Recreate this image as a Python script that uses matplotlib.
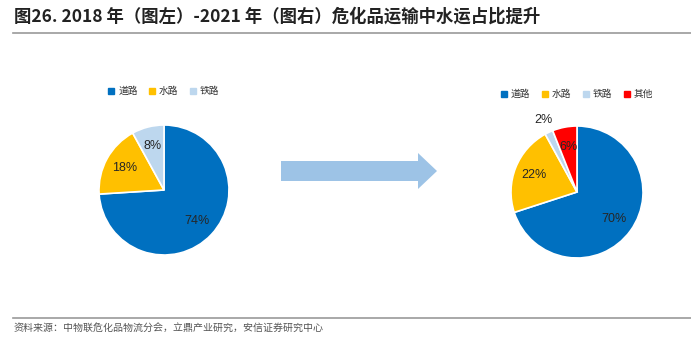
import matplotlib.pyplot as plt
import matplotlib.patches as mpatches
from matplotlib.lines import Line2D
import numpy as np

plt.rcParams['font.family'] = ['Noto Sans CJK SC', 'DejaVu Sans']

labels_2018 = ['道路', '水路', '铁路']
share_2018 = [74, 18, 8]
colors_2018 = ['#0070C0', '#FFC000', '#BDD7EE']

labels_2021 = ['道路', '水路', '铁路', '其他']
share_2021 = [70, 22, 2, 6]
colors_2021 = ['#0070C0', '#FFC000', '#BDD7EE', '#FF0000']

title = '图26. 2018 年（图左）-2021 年（图右）危化品运输中水运占比提升'
source = '资料来源：中物联危化品物流分会，立鼎产业研究，安信证券研究中心'

W, H = 691, 352
fig = plt.figure(figsize=(W / 100, H / 100), dpi=100)


def px_axes(cx, cy, r):
    # axes box in pixel coords (top-left origin), square around pie centre
    return fig.add_axes([(cx - r) / W, (H - cy - r) / H, 2 * r / W, 2 * r / H])


def draw_pie(ax, vals, cols, outside=None):
    wedges, texts, autotexts = ax.pie(
        vals, colors=cols, startangle=90, counterclock=False,
        autopct='%d%%', pctdistance=0.7, radius=1,
        wedgeprops=dict(edgecolor='white', linewidth=1.2),
        textprops=dict(fontsize=9, color='#262626',
                       family=['Liberation Sans', 'DejaVu Sans']))
    if outside is not None:
        w = wedges[outside]
        ang = np.deg2rad((w.theta1 + w.theta2) / 2)
        autotexts[outside].set_position((1.2 * np.cos(ang), 1.2 * np.sin(ang)))
    ax.set_xlim(-1, 1)
    ax.set_ylim(-1, 1)
    ax.set_aspect('equal')
    ax.axis('off')
    return wedges


ax1 = px_axes(164, 190, 65)
draw_pie(ax1, share_2018, colors_2018)
ax2 = px_axes(577, 192, 66)
draw_pie(ax2, share_2021, colors_2021, outside=2)


def legend(labels, cols, x, y):
    handles = [Line2D([], [], marker='s', linestyle='', markersize=4,
                      markerfacecolor=c, markeredgecolor=c) for c in cols]
    fig.legend(handles, labels, loc='center', bbox_to_anchor=(x / W, 1 - y / H),
               ncol=len(labels), frameon=False, fontsize=7,
               handlelength=0.6, handletextpad=0.4, columnspacing=1.2,
               labelcolor='#333333')


legend(labels_2018, colors_2018, 164, 91)
legend(labels_2021, colors_2021, 577, 94)

# arrow between the pies
arrow_pts = np.array([[281, 161], [418, 161], [418, 153], [437, 171],
                      [418, 189], [418, 181], [281, 181]], dtype=float)
arrow_pts[:, 0] /= W
arrow_pts[:, 1] = 1 - arrow_pts[:, 1] / H
fig.patches.append(mpatches.Polygon(arrow_pts, closed=True, transform=fig.transFigure,
                                    facecolor='#9DC3E6', edgecolor='none'))

# title, rules, source
fig.text(14 / W, 1 - 17 / H, title, fontsize=12.5, fontweight='bold',
         color='#222222', va='center', ha='left')
fig.add_artist(Line2D([13 / W, 1], [1 - 33 / H, 1 - 33 / H],
                      color='#999999', linewidth=1.2))
fig.add_artist(Line2D([13 / W, 1], [1 - 318 / H, 1 - 318 / H],
                      color='#999999', linewidth=1.2))
fig.text(14 / W, 1 - 328 / H, source, fontsize=7.2, color='#555555',
         va='center', ha='left', style='italic')

fig.savefig('out.png', dpi=100)
